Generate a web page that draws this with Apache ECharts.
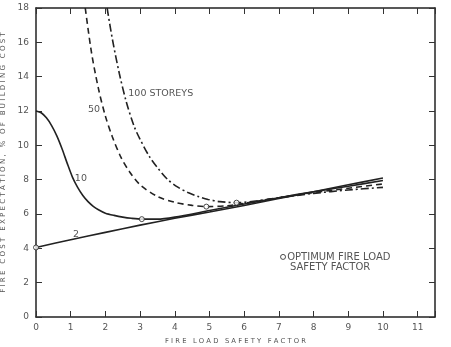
<!DOCTYPE html>
<html><head><meta charset="utf-8">
<script src="https://cdn.jsdelivr.net/npm/echarts@6/dist/echarts.min.js"></script>
<style>html,body{margin:0;padding:0;background:#fff}#c{width:451px;height:347px}</style>
</head><body><div id="c"></div>
<script>
var xTicks = [0,1,2,3,4,5,6,7,8,9,10,11];
var yTicks = [0,2,4,6,8,10,12,14,16,18];
var storeys2 = [[0,4.05],[1,4.5],[2,4.93],[3,5.35],[4,5.75],[5,6.12],[6,6.5],[7,6.9],[8,7.3],[9,7.7],[10,8.1]];
var storeys10 = [[0,12],[0.15,11.9],[0.3,11.6],[0.45,11.15],[0.6,10.55],[0.75,9.8],[0.9,8.95],[1.05,8.15],[1.2,7.55],[1.35,7.08],[1.5,6.72],[1.65,6.45],[1.8,6.25],[2.0,6.05],[2.25,5.92],[2.5,5.82],[2.75,5.75],[3.05,5.7],[3.5,5.7],[4,5.82],[5,6.2],[6,6.58],[7,6.95],[8,7.3],[9,7.62],[10,7.95]];
var storeys50 = [[1.42,18],[1.6,15.4],[1.8,13.3],[2.0,11.7],[2.2,10.5],[2.45,9.3],[2.7,8.45],[3.0,7.7],[3.5,7.02],[4.0,6.68],[4.5,6.5],[4.91,6.43],[5.5,6.48],[6,6.62],[7,6.95],[8,7.25],[9,7.5],[10,7.75]];
var storeys100 = [[2.05,18],[2.2,16.2],[2.4,14.2],[2.6,12.55],[2.83,11.1],[3.0,10.35],[3.27,9.34],[3.5,8.7],[3.8,8.0],[4.1,7.55],[4.38,7.25],[4.7,7.0],[4.96,6.85],[5.3,6.72],[5.78,6.66],[6.5,6.8],[7,6.95],[8,7.2],[9,7.4],[10,7.55]];
var optimum = [[0,4.05],[3.05,5.7],[4.91,6.43],[5.78,6.66]];
var curveLabels = [[1.07,4.78,'2'],[1.12,8.04,'10'],[1.5,12.1,'50'],[2.66,13.0,'100 STOREYS']];
var legendLines = [[7.24,3.5,'OPTIMUM FIRE LOAD'],[7.32,2.91,'SAFETY FACTOR']];
var legendMarker = [[7.12,3.5]];

var txt = '#555';
var font = 'DejaVu Sans';
function lineSeries(data, type, s){
  return {type:'line', data:data, smooth:s, symbol:'none', silent:true,
    lineStyle:{color:'#222', width:1.6, type:type}, z:3};
}
function axisBase(){
  return {axisLine:{onZero:false, lineStyle:{color:'#222', width:1.5}},
    axisTick:{inside:true, length:6, lineStyle:{color:'#333'}},
    splitLine:{show:false}};
}
var chart = echarts.init(document.getElementById('c'), null, {renderer:'canvas'});
chart.setOption({
  animation:false,
  grid:{left:36, right:16, top:8, bottom:30, containLabel:false, outerBoundsMode:'none'},
  xAxis:[Object.assign(axisBase(), {type:'value', min:0, max:11.5, interval:1,
    axisLabel:{color:txt, fontSize:9, fontFamily:font, margin:6,
      formatter:function(v){return xTicks.indexOf(v)>=0 ? String(v) : '';}},
    name:'F I R E   L O A D   S A F E T Y   F A C T O R', nameLocation:'middle', nameGap:21,
    nameTextStyle:{color:txt, fontSize:6.8, fontFamily:font}}),
   Object.assign(axisBase(), {type:'value', position:'top', min:0, max:11.5, interval:1,
    axisLabel:{show:false}})],
  yAxis:[Object.assign(axisBase(), {type:'value', min:0, max:18, interval:2,
    axisLabel:{color:txt, fontSize:9, fontFamily:font, margin:7,
      formatter:function(v){return yTicks.indexOf(v)>=0 ? String(v) : '';}},
    name:'F I R E   C O S T   E X P E C T A T I O N ,   %   O F   B U I L D I N G   C O S T', nameLocation:'middle', nameGap:19,
    nameTextStyle:{color:txt, fontSize:7.1, fontFamily:font}}),
   Object.assign(axisBase(), {type:'value', position:'right', min:0, max:18, interval:2,
    axisLabel:{show:false}})],
  series:[
    lineSeries(storeys2,'solid',0.3),
    lineSeries(storeys10,'solid',0.25),
    lineSeries(storeys50,[6,4],0.3),
    lineSeries(storeys100,[8,3,2,3],0.3),
    {type:'scatter', data:optimum.concat(legendMarker), symbol:'circle', symbolSize:5,
      itemStyle:{color:'#fff', borderColor:'#222', borderWidth:1}, z:5, silent:true}
  ]
});
function toText(list, size){
  return list.map(function(d){
    var p = chart.convertToPixel({gridIndex:0}, [d[0], d[1]]);
    return {type:'text', x:p[0], y:p[1], z:10, silent:true,
      style:{text:d[2], fill:txt, fontSize:size, fontFamily:font, align:'left', verticalAlign:'middle'}};
  });
}
chart.setOption({graphic: toText(curveLabels, 9.5).concat(toText(legendLines, 10))});
</script></body></html>
